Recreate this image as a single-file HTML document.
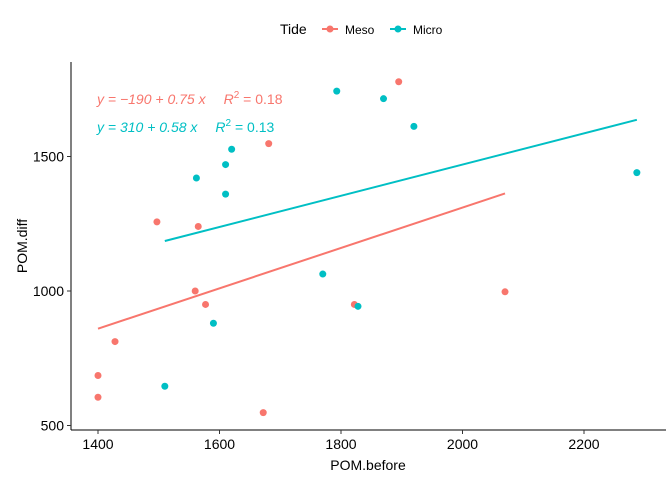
<!DOCTYPE html>
<html><head><meta charset="utf-8"><style>
body{margin:0;background:#fff;font-family:"Liberation Sans",sans-serif}
</style></head><body>
<svg id="c" width="672" height="480" xmlns="http://www.w3.org/2000/svg"></svg>
<script>
const xTicks=[1400,1600,1800,2000,2200];
const yTicks=[500,1000,1500];
const mesoX=[1400,1400,1428,1497,1560,1565,1577,1672,1681,1822,1895,2070];
const mesoY=[686,605,812,1257,1000,1240,950,548,1548,950,1778,997];
const microX=[1510,1562,1590,1610,1610,1620,1770,1793,1828,1870,1920,2287];
const microY=[646,1420,880,1470,1360,1527,1063,1743,943,1715,1612,1440];
const mesoFit=[-190,0.75];
const microFit=[310,0.58];
const NS="http://www.w3.org/2000/svg";
const svg=document.getElementById('c');
const X=v=>98+(v-1400)*121.5/200;
const Y=v=>291-(v-1000)*134.5/500;
function el(t,a,txt){const e=document.createElementNS(NS,t);for(const k in a)e.setAttribute(k,a[k]);if(txt!=null)e.textContent=txt;svg.appendChild(e);return e;}
let e;
e=el('line',{x1:71,y1:62,x2:71,y2:430,stroke:'#000','stroke-width':1});

e=el('line',{x1:71,y1:430,x2:666,y2:430,stroke:'#000','stroke-width':1});

xTicks.forEach(t=>{
 e=el('line',{x1:X(t),y1:430,x2:X(t),y2:434,stroke:'#333'});
 
 e=el('text',{x:X(t),y:449,'text-anchor':'middle','font-size':14,fill:'#000'},t);
 
});
yTicks.forEach(t=>{
 e=el('line',{x1:67,y1:Y(t),x2:71,y2:Y(t),stroke:'#333'});
 
 e=el('text',{x:64,y:Y(t)+5,'text-anchor':'end','font-size':14,fill:'#000'},t);
 
});
e=el('text',{x:368,y:470,'text-anchor':'middle','font-size':14},'POM.before');

e=el('text',{x:0,y:0,'text-anchor':'middle','font-size':14,transform:'translate(27,246) rotate(-90)'},'POM.diff');

function series(xs,ys,fit,col,name){
 const mn=Math.min(...xs),mx=Math.max(...xs);
 e=el('line',{x1:X(mn),y1:Y(fit[0]+fit[1]*mn),x2:X(mx),y2:Y(fit[0]+fit[1]*mx),stroke:col,'stroke-width':2});
 
 xs.forEach((x,i)=>{
  e=el('circle',{cx:X(x),cy:Y(ys[i]),r:3.5,fill:col});
  
 });
}
series(mesoX,mesoY,mesoFit,'#F8766D','meso');
series(microX,microY,microFit,'#00BFC4','micro');
e=el('text',{x:97,y:104,'font-size':14,fill:'#F8766D','font-style':'italic'});
e.innerHTML='y = −190 + 0.75 x<tspan dx="18" font-style="italic">R</tspan><tspan dy="-6" font-size="10" font-style="normal">2</tspan><tspan dy="6" font-style="normal"> = 0.18</tspan>';

e=el('text',{x:97,y:132,'font-size':14,fill:'#00BFC4','font-style':'italic'});
e.innerHTML='y = 310 + 0.58 x<tspan dx="18" font-style="italic">R</tspan><tspan dy="-6" font-size="10" font-style="normal">2</tspan><tspan dy="6" font-style="normal"> = 0.13</tspan>';

e=el('text',{x:280,y:34,'font-size':14},'Tide');

[['Meso','#F8766D',330],['Micro','#00BFC4',398]].forEach(([n,c,x])=>{
 e=el('line',{x1:x-8,y1:29,x2:x+8,y2:29,stroke:c,'stroke-width':2});
 
 e=el('circle',{cx:x,cy:29,r:3.5,fill:c});
 
 e=el('text',{x:x+15,y:34,'font-size':12},n);
 
});
</script>
</body></html>
